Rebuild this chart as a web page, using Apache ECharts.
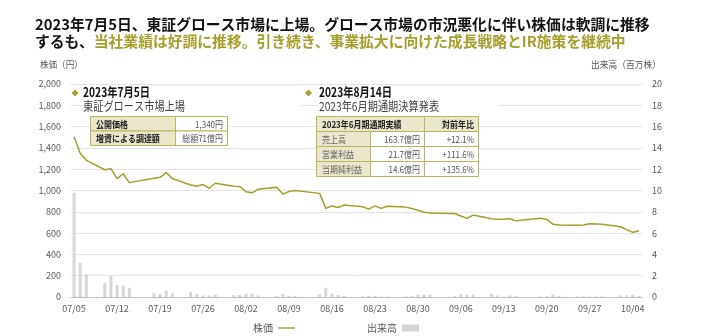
<!DOCTYPE html>
<html>
<head>
<meta charset="utf-8">
<script src="https://cdn.jsdelivr.net/npm/echarts@6/dist/echarts.min.js"></script>
<style>
html,body{margin:0;padding:0;background:#fff;}
#c{width:702px;height:336px;}
</style>
</head>
<body>
<div id="c"></div>
<script>
// ---- data ----
var tradeDates = ['07/05','07/06','07/07','07/10','07/11','07/12','07/13','07/14','07/18','07/19','07/20','07/21','07/24','07/25','07/26','07/27','07/28','07/31',
  '08/01','08/02','08/03','08/04','08/07','08/08','08/09','08/10','08/14','08/15','08/16','08/17','08/18','08/21','08/22','08/23','08/24','08/25','08/28','08/29','08/30','08/31',
  '09/01','09/04','09/05','09/06','09/07','09/08','09/11','09/12','09/13','09/14','09/15','09/19','09/20','09/21','09/22','09/25','09/26','09/27','09/28','09/29',
  '10/02','10/03','10/04','10/05'];
var prices = [1504,1350,1283,1195,1205,1112,1157,1074,1115,1124,1168,1113,1052,1040,1056,1021,1068,1040,
  1037,988,978,1012,1030,966,990,1000,973,832,854,841,863,847,825,856,832,852,844,832,815,795,
  788,785,784,760,738,769,735,730,731,735,715,740,728,684,675,674,677,688,686,682,
  660,632,607,619];
var volumes = [9.8,3.2,2.15,1.3,1.95,1.12,1.1,0.87,0.35,0.28,0.6,0.35,0.47,0.28,0.15,0.15,0.22,0.19,
  0.19,0.31,0.31,0.15,0.1,0.28,0.12,0.1,0.25,0.87,0.31,0.19,0.1,0.05,0.1,0.12,0.05,0.05,0.05,0.1,0.2,0.2,
  0.2,0.05,0.1,0.25,0.2,0.2,0.3,0.15,0.05,0.15,0.1,0.05,0.1,0.25,0.12,0.05,0.05,0.05,0.05,0.05,
  0.15,0.15,0.2,0.1];
var priceTicks = {min:0, max:2000, interval:200};
var volTicks = {min:0, max:20, interval:2};

// calendar-day categories (weekends/holidays are empty slots)
var categories = [];
(function(){
  var d = new Date(2023,6,5), end = new Date(2023,9,5);
  while (d <= end) {
    var m = ('0'+(d.getMonth()+1)).slice(-2), dd = ('0'+d.getDate()).slice(-2);
    categories.push(m+'/'+dd);
    d.setDate(d.getDate()+1);
  }
})();
var priceSeries = categories.map(function(c){ var i = tradeDates.indexOf(c); return i<0 ? null : prices[i]; });
var volSeries = categories.map(function(c){ var i = tradeDates.indexOf(c); return i<0 ? null : volumes[i]; });

var OLIVE = '#a59e2a';
var BEIGE = '#ebe7cc';
var BORDER = '#bcb45a';
var FONT = '"Noto Sans CJK JP", "Noto Sans", sans-serif';

function cell(x,y,w,h,fill){
  return {type:'rect', shape:{x:x,y:y,width:w,height:h}, style:{fill:fill, stroke:BORDER, lineWidth:1}, z:10};
}
function txt(x,y,s,opt){
  opt = opt || {};
  return {type:'text', x:x, y:y, z:11, scaleX:opt.sx||1,
    style:{text:s, fill:opt.color||'#404040', font:(opt.bold?'bold ':'')+(opt.size||9.5)+'px '+FONT, textAlign:opt.align||'left', textVerticalAlign:'middle'}};
}
var TS = 0.84; // table text horizontal scale

var g = [];
// axis names
g.push(txt(40,64,'株価（円）',{size:9.5,color:'#595959',sx:0.9}));
g.push(txt(661,64,'出来高（百万株）',{size:9.5,color:'#595959',align:'right',sx:0.92}));
// annotation 1
g.push({type:'rect', shape:{x:82,y:99,width:218,height:14}, style:{fill:'#fff'}, z:9});
g.push({type:'polygon', shape:{points:[[75,89.5],[78.5,93],[75,96.5],[71.5,93]]}, style:{fill:OLIVE}, z:11});
g.push(txt(83,92.5,'2023年7月5日',{size:12.5,bold:true,color:'#111',sx:0.82}));
g.push(txt(83,106,'東証グロース市場上場',{size:12,color:'#404040',sx:0.85}));
g.push(cell(90.5,116.5,85,14.5,BEIGE)); g.push(cell(175.5,116.5,52,14.5,'#fff'));
g.push(cell(90.5,131,85,14.5,BEIGE)); g.push(cell(175.5,131,52,14.5,'#fff'));
g.push(txt(96,124,'公開価格',{bold:true,color:'#222',sx:TS}));
g.push(txt(223,124,'1,340円',{align:'right',color:'#555',sx:TS}));
g.push(txt(96,138.5,'増資による調達額',{bold:true,color:'#222',sx:TS}));
g.push(txt(223,138.5,'総額71億円',{align:'right',color:'#555',sx:TS}));
// annotation 2
g.push({type:'rect', shape:{x:318,y:99,width:180,height:14}, style:{fill:'#fff'}, z:9});
g.push({type:'polygon', shape:{points:[[308.5,89.5],[312,93],[308.5,96.5],[305,93]]}, style:{fill:OLIVE}, z:11});
g.push(txt(319,92.5,'2023年8月14日',{size:12.5,bold:true,color:'#111',sx:0.82}));
g.push(txt(319,106,'2023年6月期通期決算発表',{size:12,color:'#404040',sx:0.85}));
var tx=[316.5,370.5,424.5,478.5], ty=[116.5,131.5,146.5,161.5,176.5];
g.push(cell(tx[0],ty[0],tx[2]-tx[0],15,BEIGE)); g.push(cell(tx[2],ty[0],tx[3]-tx[2],15,BEIGE));
g.push(txt(322,124,'2023年6月期通期実績',{bold:true,color:'#222',sx:TS}));
g.push(txt(474,124,'対前年比',{bold:true,color:'#222',align:'right',sx:TS}));
var rows=[['売上高','163.7億円','+12.1%'],['営業利益','21.7億円','+111.6%'],['当期純利益','14.6億円','+135.6%']];
rows.forEach(function(r,i){
  var y=ty[i+1];
  g.push(cell(tx[0],y,tx[1]-tx[0],15,BEIGE));
  g.push(cell(tx[1],y,tx[2]-tx[1],15,'#fff'));
  g.push(cell(tx[2],y,tx[3]-tx[2],15,'#fff'));
  g.push(txt(322,y+7.5,r[0],{color:'#666',sx:TS}));
  g.push(txt(420,y+7.5,r[1],{color:'#555',align:'right',sx:TS}));
  g.push(txt(474,y+7.5,r[2],{color:'#555',align:'right',sx:TS}));
});

var chart = echarts.init(document.getElementById('c'), null, {renderer:'canvas'});
chart.setOption({
  animation:false,
  backgroundColor:'#fff',
  textStyle:{fontFamily:FONT},
  title:{
    left:30, top:11,
    text:'{b|2023年7月5日、東証グロース市場に上場。グロース市場の市況悪化に伴い株価は軟調に推移}\n{b|するも、}{y|当社業績は好調に推移。引き続き、事業拡大に向けた成長戦略とIR施策を継続中}',
    textStyle:{
      rich:{
        b:{fontSize:14.8,fontWeight:'bold',color:'#111',lineHeight:17,fontFamily:FONT},
        y:{fontSize:14.8,fontWeight:'bold',color:OLIVE,lineHeight:17,fontFamily:FONT}
      }
    }
  },
  legend:{
    left:248, top:318, itemGap:72, itemWidth:17, itemHeight:7, align:'right',
    textStyle:{fontSize:10,color:'#595959',fontFamily:FONT},
    data:[{name:'株価', icon:'path://M0,0H20V1.6H0Z'},{name:'出来高', icon:'rect'}]
  },
  grid:{left:71, right:60, top:84, bottom:39},
  xAxis:{
    type:'category', data:categories, boundaryGap:true,
    axisLine:{lineStyle:{color:'#bfbfbf'}},
    axisTick:{show:false},
    axisLabel:{interval:6, color:'#595959', fontSize:9, margin:7},
    splitLine:{show:false}
  },
  yAxis:[
    {type:'value', min:priceTicks.min, max:priceTicks.max, interval:priceTicks.interval,
     axisLine:{show:false}, axisTick:{show:false},
     axisLabel:{color:'#595959', fontSize:9, margin:10, formatter:function(v){return v.toLocaleString('en-US');}},
     splitLine:{lineStyle:{color:'#e3e3e3'}}},
    {type:'value', min:volTicks.min, max:volTicks.max, interval:volTicks.interval,
     axisLine:{show:false}, axisTick:{show:false},
     axisLabel:{color:'#595959', fontSize:9, margin:10},
     splitLine:{show:false}}
  ],
  series:[
    {name:'出来高', type:'bar', yAxisIndex:1, data:volSeries, barWidth:3, itemStyle:{color:'#d6d6d6'}, z:1},
    {name:'株価', type:'line', yAxisIndex:0, data:priceSeries, connectNulls:true, symbol:'none', showSymbol:false,
     lineStyle:{color:OLIVE, width:1.5}, itemStyle:{color:OLIVE}, z:3}
  ],
  graphic:g
});
</script>
</body>
</html>
